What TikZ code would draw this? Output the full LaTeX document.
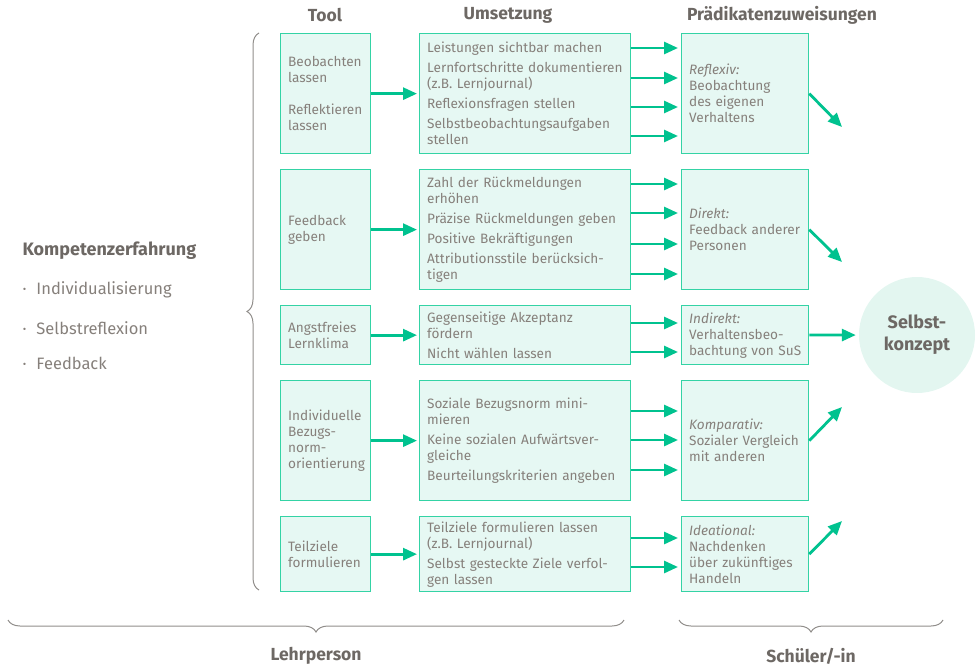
\documentclass[tikz,border=0pt]{standalone}
\usepackage{fontspec}
\setmainfont{Fira Sans}
\usetikzlibrary{arrows.meta, positioning, decorations.pathreplacing}
\definecolor{tealLine}{HTML}{00C28F}
\definecolor{tealBorder}{HTML}{34D3A5}
\definecolor{tealFill}{HTML}{E6F8F3}
\definecolor{circFill}{HTML}{E3F6F0}
\definecolor{txtGray}{HTML}{86807B}
\definecolor{headGray}{HTML}{6D6864}
\tikzstyle{boxNode} = [rectangle, anchor=north west, draw=tealBorder, fill=tealFill, line width=1.3pt, inner xsep=7.5pt, inner ysep=0pt, align=left, text=txtGray, font=\fontsize{13.6}{16}\selectfont]
\tikzstyle{toolNode} = [boxNode, text width=75pt]
\tikzstyle{umsNode} = [boxNode, text width=196pt]
\tikzstyle{praedNode} = [boxNode, text width=112pt]
\tikzstyle{headNode} = [font=\bfseries\fontsize{17.5}{20}\selectfont, text=headGray]
\tikzstyle{listNode} = [anchor=west, text=txtGray, font=\fontsize{16.5}{20}\selectfont]
\tikzstyle{arrowG} = [line width=2.8pt, draw=tealLine, -{Triangle[length=14pt,width=12pt]}, shorten >=2pt]
\tikzstyle{braceL} = [decorate, decoration={brace, amplitude=12pt}, draw=headGray!75, line width=1pt]

\begin{document}
\begin{tikzpicture}[x=1pt, y=-1pt]
    \useasboundingbox (0,0) rectangle (977,666);

    % column heads
    \node (hTool) [headNode] at (325,15) {Tool};
    \node (hUms) [headNode] at (508,15) {Umsetzung};
    \node (hPraed) [headNode] at (782,15) {Prädikatenzuweisungen};

    % left text
    \node (komp) [listNode, font=\bfseries\fontsize{18}{20}\selectfont, text=headGray] at (19,251) {Kompetenzerfahrung};
    \node (li1) [listNode] at (19,290) {·\hspace{10pt}Individualisierung};
    \node (li2) [listNode] at (19,328) {·\hspace{10pt}Selbstreflexion};
    \node (li3) [listNode] at (19,363) {·\hspace{10pt}Feedback};

    % tools
    \node (tA) [toolNode, minimum height=120pt] at (280,33) {Beobachten\\lassen\\[16pt]Reflektieren\\lassen};
    \node (tB) [toolNode, minimum height=120pt] at (280,169) {Feedback\\geben};
    \node (tC) [toolNode, minimum height=59pt] at (280,305) {Angstfreies\\Lernklima};
    \node (tD) [toolNode, minimum height=120pt] at (280,380) {Individuelle\\Bezugs-\\norm-\\orientierung};
    \node (tE) [toolNode, minimum height=75pt] at (280,516) {Teilziele\\formulieren};

    % Umsetzung
    \node (uA) [umsNode, minimum height=120pt] at (419,33) {Leistungen sichtbar machen\\[4pt]Lernfortschritte dokumentieren\\(z.B. Lernjournal)\\[4pt]Reflexionsfragen stellen\\[4pt]Selbstbeobachtungsaufgaben\\stellen};
    \node (uB) [umsNode, minimum height=120pt] at (419,169) {Zahl der Rückmeldungen\\erhöhen\\[4pt]Präzise Rückmeldungen geben\\[4pt]Positive Bekräftigungen\\[4pt]Attributionsstile berücksich-\\tigen};
    \node (uC) [umsNode, minimum height=59pt] at (419,305) {Gegenseitige Akzeptanz\\fördern\\[4pt]Nicht wählen lassen};
    \node (uD) [umsNode, minimum height=120pt] at (419,380) {Soziale Bezugsnorm mini-\\mieren\\[4pt]Keine sozialen Aufwärtsver-\\gleiche\\[4pt]Beurteilungskriterien angeben};
    \node (uE) [umsNode, minimum height=75pt] at (419,516) {Teilziele formulieren lassen\\(z.B. Lernjournal)\\[4pt]Selbst gesteckte Ziele verfol-\\gen lassen};

    % Praedikate
    \node (pA) [praedNode, minimum height=120pt] at (681,33) {\textit{Reflexiv:}\\Beobachtung\\des eigenen\\Verhaltens};
    \node (pB) [praedNode, minimum height=120pt] at (681,169) {\textit{Direkt:}\\Feedback anderer\\Personen};
    \node (pC) [praedNode, minimum height=59pt] at (681,305) {\textit{Indirekt:}\\Verhaltensbeo-\\\mbox{bachtung von SuS}};
    \node (pD) [praedNode, minimum height=120pt] at (681,380) {\textit{Komparativ:}\\Sozialer Vergleich\\mit anderen};
    \node (pE) [praedNode, minimum height=75pt] at (681,516) {\textit{Ideational:}\\Nachdenken\\über zukünftiges\\Handeln};

    \node (selbst) [circle, fill=circFill, minimum size=116pt, text=headGray, font=\bfseries\fontsize{18}{22}\selectfont, align=center] at (917,335) {Selbst-\\konzept};

    \coordinate (eA) at (842,127);
    \coordinate (eB) at (842,262);
    \coordinate (eD) at (842,407);
    \coordinate (eE) at (842,521);

    % tool -> umsetzung
    \draw [arrowG] (tA) -- (uA);
    \draw [arrowG] (tB) -- (uB);
    \draw [arrowG] (tC) -- (uC);
    \draw [arrowG] (tD) -- (uD);
    \draw [arrowG] (tE) -- (uE);

    % umsetzung -> praedikate
    \foreach \y in {48,78,107,136} \draw [arrowG, shorten >=3pt] (uA.east |- 0,\y) -- (pA.west |- 0,\y);
    \foreach \y in {184,213,244,274} \draw [arrowG, shorten >=3pt] (uB.east |- 0,\y) -- (pB.west |- 0,\y);
    \foreach \y in {323,352} \draw [arrowG, shorten >=3pt] (uC.east |- 0,\y) -- (pC.west |- 0,\y);
    \foreach \y in {411,440,470} \draw [arrowG, shorten >=3pt] (uD.east |- 0,\y) -- (pD.west |- 0,\y);
    \foreach \y in {538,567} \draw [arrowG, shorten >=3pt] (uE.east |- 0,\y) -- (pE.west |- 0,\y);

    % praedikate -> selbstkonzept
    \draw [arrowG, shorten >=0pt] (pA.east) -- (eA);
    \draw [arrowG, shorten >=0pt] (pB.east) -- (eB);
    \draw [arrowG, shorten >=3pt] (pC) -- (selbst);
    \draw [arrowG, shorten >=0pt] (pD.east) -- (eD);
    \draw [arrowG, shorten >=0pt] (pE.east) -- (eE);

    % braces
    \draw [braceL] (259,590) -- (259,33);
    \draw [braceL] (624,620) -- (8,620);
    \draw [braceL] (943,620) -- (679,620);
    \node (lehr) [headNode] at (316,656) {Lehrperson};
    \node (schue) [headNode] at (811,656) {Schüler/-in};
\end{tikzpicture}
\end{document}
